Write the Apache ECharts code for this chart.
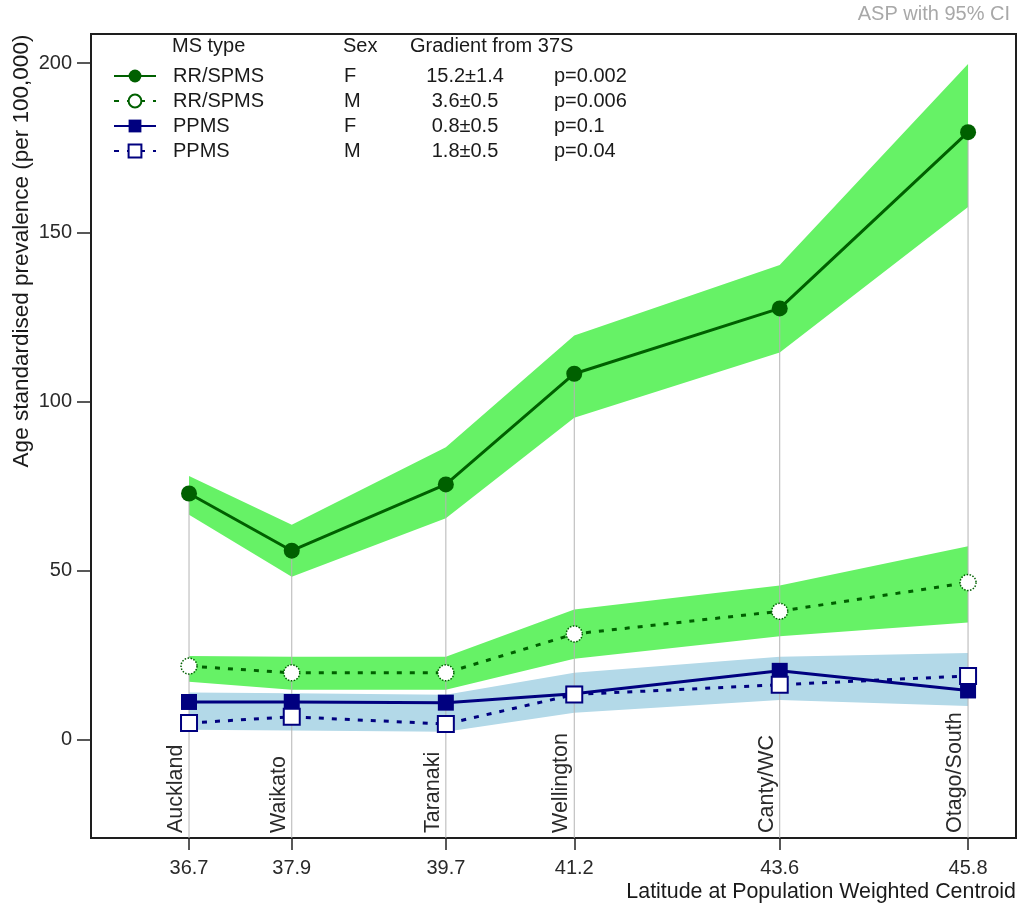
<!DOCTYPE html>
<html>
<head>
<meta charset="utf-8">
<script src="https://cdn.jsdelivr.net/npm/echarts@6/dist/echarts.min.js"></script>
<style>
  html, body { margin: 0; padding: 0; background: #ffffff; }
  #chart { width: 1018px; height: 906px; }
</style>
</head>
<body>
<div id="chart"></div>
<script>
// Regions ordered by latitude of their population-weighted centroid
const latitudes = [36.7, 37.9, 39.7, 41.2, 43.6, 45.8];
const regions = ['Auckland', 'Waikato', 'Taranaki', 'Wellington', 'Canty/WC', 'Otago/South'];
const yTicks = [0, 50, 100, 150, 200];

// Age standardised prevalence per 100,000 with 95% CI
const rrF = [72.8, 55.9, 75.5, 108.2, 127.5, 179.6];
const rrFLow = [66.5, 48.2, 65.5, 95.2, 114.5, 157.5];
const rrFHigh = [78.0, 63.6, 86.5, 119.5, 140.3, 199.7];

const rrM = [21.8, 19.8, 19.8, 31.3, 38.0, 46.5];
const rrMLow = [17.2, 14.8, 14.8, 24.0, 30.6, 34.7];
const rrMHigh = [24.8, 24.6, 24.6, 38.5, 45.6, 57.2];

const ppF = [11.2, 11.2, 11.0, 13.6, 20.4, 14.6];
const ppM = [5.0, 6.8, 4.7, 13.4, 16.3, 18.9];
const ppLow = [3.0, 2.8, 2.4, 8.0, 11.8, 10.0];
const ppHigh = [14.0, 13.8, 13.3, 19.8, 24.6, 25.7];

// Legend table columns
const legendNames = ['RR/SPMS F', 'RR/SPMS M', 'PPMS F', 'PPMS M'];
const msType = ['RR/SPMS', 'RR/SPMS', 'PPMS', 'PPMS'];
const sexes = ['F', 'M', 'F', 'M'];
const gradients = ['15.2\u00b11.4', '3.6\u00b10.5', '0.8\u00b10.5', '1.8\u00b10.5'];
const pValues = ['p=0.002', 'p=0.006', 'p=0.1', 'p=0.04'];

const FONT = '"Liberation Sans", Arial, sans-serif';
const X_MIN = 35.555, X_MAX = 46.36;
const Y_MIN = -29, Y_MAX = 208.6;

const DARK_GREEN = '#006000';
const NAVY = '#00007f';
const BAND_GREEN = '#66f266';
const BAND_BLUE = '#b3d9e8';

function pairs(values) {
  return latitudes.map((x, i) => [x, values[i]]);
}

// A CI band drawn as one filled polygon: upper edge left-to-right, lower edge back
function band(low, high, color) {
  return {
    type: 'custom', silent: true, z: 1,
    data: latitudes.map((x, i) => [x, low[i], high[i]]),
    renderItem: (params, api) => {
      if (params.dataIndex !== 0) return null;
      const upper = latitudes.map((x, i) => api.coord([x, high[i]]));
      const lower = latitudes.map((x, i) => api.coord([x, low[i]])).reverse();
      return {
        type: 'polygon',
        shape: { points: upper.concat(lower) },
        style: { fill: color }
      };
    }
  };
}

const chart = echarts.init(document.getElementById('chart'), null, { renderer: 'canvas' });

const option = {
  animation: false,
  backgroundColor: '#ffffff',
  grid: {
    left: 91, right: 2, top: 34, bottom: 68,
    show: true, borderColor: '#1e1e1e', borderWidth: 2, backgroundColor: 'transparent'
  },
  xAxis: {
    type: 'value', min: X_MIN, max: X_MAX,
    splitLine: { show: false },
    axisLine: { show: false, onZero: false },
    axisTick: { show: true, customValues: latitudes, length: 12, lineStyle: { color: '#222', width: 1.5 } },
    axisLabel: {
      customValues: latitudes, margin: 20,
      fontFamily: FONT, fontSize: 20, color: '#2a2a2a',
      formatter: v => v.toFixed(1)
    }
  },
  yAxis: {
    type: 'value', min: Y_MIN, max: Y_MAX,
    splitLine: { show: false },
    axisLine: { show: false, onZero: false },
    axisTick: { show: true, customValues: yTicks, length: 14, lineStyle: { color: '#222', width: 1.5 } },
    axisLabel: {
      customValues: yTicks, margin: 19,
      fontFamily: FONT, fontSize: 20, color: '#2a2a2a'
    }
  },
  legend: {
    data: legendNames,
    orient: 'vertical',
    left: 108, top: 60,
    itemWidth: 42, itemHeight: 16, itemGap: 3,
    selectedMode: false,
    textStyle: {
      fontFamily: FONT, fontSize: 20, color: '#1a1a1a', lineHeight: 22,
      rich: {
        a: { fontFamily: FONT, fontSize: 20, color: '#1a1a1a', width: 171, padding: [0, 0, 0, 12] },
        b: { fontFamily: FONT, fontSize: 20, color: '#1a1a1a', width: 60 },
        c: { fontFamily: FONT, fontSize: 20, color: '#1a1a1a', width: 122, align: 'right' },
        d: { fontFamily: FONT, fontSize: 20, color: '#1a1a1a', padding: [0, 0, 0, 28] }
      }
    },
    formatter: name => {
      const i = legendNames.indexOf(name);
      return '{a|' + msType[i] + '}{b|' + sexes[i] + '}{c|' + gradients[i] + '}{d|' + pValues[i] + '}';
    }
  },
  graphic: [
    { type: 'text', left: 172, top: 36, style: { text: 'MS type', fontFamily: FONT, fontSize: 20, fill: '#1a1a1a' } },
    { type: 'text', left: 343, top: 36, style: { text: 'Sex', fontFamily: FONT, fontSize: 20, fill: '#1a1a1a' } },
    { type: 'text', left: 410, top: 36, style: { text: 'Gradient from 37S', fontFamily: FONT, fontSize: 20, fill: '#1a1a1a' } },
    {
      type: 'text', x: 1010, y: 14,
      style: { text: 'ASP with 95% CI', fontFamily: FONT, fontSize: 20, fill: '#a8a8a8', align: 'right', verticalAlign: 'middle' }
    },
    {
      type: 'text', x: 22, y: 251, rotation: Math.PI / 2,
      style: { text: 'Age standardised prevalence (per 100,000)', fontFamily: FONT, fontSize: 22.5, fill: '#1a1a1a', align: 'center', verticalAlign: 'middle' }
    },
    {
      type: 'text', x: 1016, y: 892,
      style: { text: 'Latitude at Population Weighted Centroid', fontFamily: FONT, fontSize: 21.4, fill: '#1a1a1a', align: 'right', verticalAlign: 'middle' }
    }
  ],
  series: [
    band(rrFLow, rrFHigh, BAND_GREEN),
    band(rrMLow, rrMHigh, BAND_GREEN),
    band(ppLow, ppHigh, BAND_BLUE),
    {
      // Grey drop lines from each region's top value, with the region name
      type: 'custom', silent: true, z: 2,
      data: latitudes.map((x, i) => [x, rrF[i], i]),
      renderItem: (params, api) => {
        const top = api.coord([api.value(0), api.value(1)]);
        const bottom = api.coord([api.value(0), Y_MIN]);
        return {
          type: 'group',
          children: [
            {
              type: 'line',
              shape: { x1: top[0], y1: top[1], x2: bottom[0], y2: bottom[1] },
              style: { stroke: '#b4b4b4', lineWidth: 1 }
            },
            {
              type: 'text', x: bottom[0] - 2, y: bottom[1] - 5, rotation: Math.PI / 2,
              style: {
                text: regions[api.value(2)], fontFamily: FONT, fontSize: 21.5, fill: '#2a2a2a',
                align: 'left', verticalAlign: 'bottom'
              }
            }
          ]
        };
      }
    },
    {
      name: 'PPMS F', type: 'line', z: 5,
      data: pairs(ppF),
      symbol: 'rect', symbolSize: 16,
      lineStyle: { color: NAVY, width: 3 },
      itemStyle: { color: NAVY }
    },
    {
      name: 'PPMS M', type: 'line', z: 6,
      data: pairs(ppM),
      symbol: 'rect', symbolSize: 16,
      lineStyle: { color: NAVY, width: 3, type: [5, 8] },
      itemStyle: { color: '#ffffff', borderColor: NAVY, borderWidth: 2 }
    },
    {
      name: 'RR/SPMS M', type: 'line', z: 7,
      data: pairs(rrM),
      symbol: 'circle', symbolSize: 16,
      lineStyle: { color: DARK_GREEN, width: 3, type: [5, 8] },
      itemStyle: { color: '#ffffff', borderColor: DARK_GREEN, borderWidth: 1.5, borderType: 'dotted' }
    },
    {
      name: 'RR/SPMS F', type: 'line', z: 8,
      data: pairs(rrF),
      symbol: 'circle', symbolSize: 16,
      lineStyle: { color: DARK_GREEN, width: 3 },
      itemStyle: { color: DARK_GREEN }
    }
  ]
};

chart.setOption(option);
</script>
</body>
</html>
